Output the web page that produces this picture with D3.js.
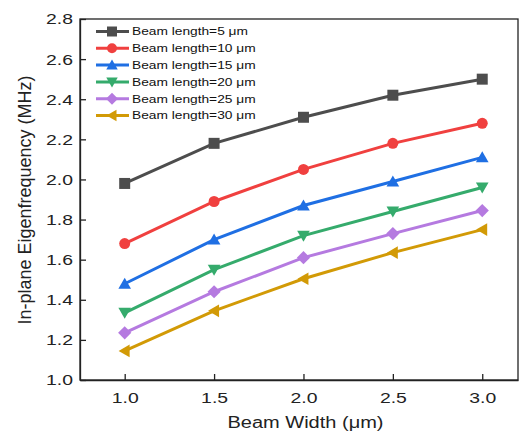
<!DOCTYPE html>
<html>
<head>
<meta charset="utf-8">
<script src="https://cdn.jsdelivr.net/npm/d3@7"></script>
<style>
  body { margin: 0; background: #fff; }
  svg { font-family: "Liberation Sans", Arial, sans-serif; }
</style>
</head>
<body>
<div id="chart"></div>
<script>
const widths = [1.0, 1.5, 2.0, 2.5, 3.0];
const lengths = ["5", "10", "15", "20", "25", "30"];
const freq5 = [1.98, 2.18, 2.31, 2.42, 2.50];
const freq10 = [1.68, 1.89, 2.05, 2.18, 2.28];
const freq15 = [1.48, 1.70, 1.87, 1.99, 2.11];
const freq20 = [1.335, 1.55, 1.72, 1.84, 1.96];
const freq25 = [1.235, 1.44, 1.61, 1.73, 1.845];
const freq30 = [1.145, 1.345, 1.505, 1.635, 1.75];
const xTicks = [1.0, 1.5, 2.0, 2.5, 3.0];
const yTicks = [1.0, 1.2, 1.4, 1.6, 1.8, 2.0, 2.2, 2.4, 2.6, 2.8];

const colors = ["#4d4d4d", "#f0403f", "#1f6fe3", "#35ab6c", "#b57ae0", "#d29a06"];
const symbols = ["square", "circle", "triangle", "triangleDown", "diamond", "triangleLeft"];

const series = [freq5, freq10, freq15, freq20, freq25, freq30].map((vals, i) => ({
  name: `Beam length=${lengths[i]} μm`,
  color: colors[i],
  symbol: symbols[i],
  points: vals.map((v, j) => ({ x: widths[j], y: v }))
}));

const width = 527, height = 438;
const margin = { top: 19, right: 9, bottom: 58, left: 80 };
const stretch = 1.25; // text in the original is drawn a bit wide

const svg = d3.select("#chart").append("svg")
  .attr("width", width)
  .attr("height", height);

const x = d3.scaleLinear().domain([0.75, 3.2]).range([margin.left, width - margin.right]);
const y = d3.scaleLinear().domain([1.0, 2.8]).range([height - margin.bottom, margin.top]);

// marker path generator
function markerPath(type, s) {
  const h = s / 2;
  if (type === "square") return `M${-h},${-h}H${h}V${h}H${-h}Z`;
  if (type === "circle") return `M${h},0A${h},${h} 0 1,1 ${-h},0A${h},${h} 0 1,1 ${h},0Z`;
  if (type === "triangle") return `M0,${-h * 1.1}L${h * 1.15},${h * 0.9}L${-h * 1.15},${h * 0.9}Z`;
  if (type === "triangleDown") return `M0,${h * 1.1}L${h * 1.15},${-h * 0.9}L${-h * 1.15},${-h * 0.9}Z`;
  if (type === "diamond") return `M0,${-h * 1.2}L${h * 1.2},0L0,${h * 1.2}L${-h * 1.2},0Z`;
  if (type === "triangleLeft") return `M${-h * 1.1},0L${h * 0.9},${-h * 1.15}L${h * 0.9},${h * 1.15}Z`;
}

// frame
svg.append("rect")
  .attr("x", margin.left)
  .attr("y", margin.top)
  .attr("width", width - margin.right - margin.left)
  .attr("height", height - margin.bottom - margin.top)
  .attr("fill", "none")
  .attr("stroke", "#222")
  .attr("stroke-width", 1.3);

// axes
const xAxis = svg.append("g")
  .attr("transform", `translate(0,${height - margin.bottom})`)
  .call(d3.axisBottom(x).tickValues(xTicks).tickFormat(d3.format(".1f")).tickSizeInner(-6).tickSizeOuter(0).tickPadding(12));
const yAxis = svg.append("g")
  .attr("transform", `translate(${margin.left},0)`)
  .call(d3.axisLeft(y).tickValues(yTicks).tickFormat(d3.format(".1f")).tickSizeInner(-6).tickSizeOuter(0).tickPadding(5.6));

[xAxis, yAxis].forEach(g => {
  g.select(".domain").attr("stroke", "#222").attr("stroke-width", 1.3);
  g.selectAll(".tick line").attr("stroke", "#222").attr("stroke-width", 1.3);
  g.selectAll(".tick text")
    .attr("font-size", 15.5)
    .attr("fill", "#222")
    .attr("transform", `scale(${stretch},1)`)
    .style("font-family", "'Liberation Sans', Arial, sans-serif");
});

// axis titles
svg.append("text")
  .attr("transform", `translate(305.5,428) scale(${stretch},1)`)
  .attr("text-anchor", "middle")
  .attr("font-size", 16)
  .attr("fill", "#222")
  .text("Beam Width (μm)");

svg.append("text")
  .attr("transform", "translate(31,200) rotate(-90)")
  .attr("text-anchor", "middle")
  .attr("font-size", 18)
  .attr("fill", "#222")
  .text("In-plane Eigenfrequency (MHz)");

// lines
const line = d3.line().x(d => x(d.x)).y(d => y(d.y));

const groups = svg.append("g").selectAll("g")
  .data(series)
  .join("g");

groups.append("path")
  .attr("d", d => line(d.points))
  .attr("fill", "none")
  .attr("stroke", d => d.color)
  .attr("stroke-width", 3);

groups.selectAll("path.marker")
  .data(d => d.points.map(p => ({ ...p, color: d.color, symbol: d.symbol })))
  .join("path")
  .attr("class", "marker")
  .attr("transform", d => `translate(${x(d.x)},${y(d.y)})`)
  .attr("d", d => markerPath(d.symbol, 11))
  .attr("fill", d => d.color);

// legend
const legend = svg.append("g");
const legendRows = legend.selectAll("g")
  .data(series)
  .join("g")
  .attr("transform", (d, i) => `translate(96,${31.5 + i * 16.8})`);

legendRows.append("line")
  .attr("x1", 0).attr("x2", 33)
  .attr("stroke", d => d.color)
  .attr("stroke-width", 3);

legendRows.append("path")
  .attr("transform", "translate(16,0)")
  .attr("d", d => markerPath(d.symbol, 10))
  .attr("fill", d => d.color);

legendRows.append("text")
  .attr("transform", `translate(36,0) scale(${stretch},1)`)
  .attr("dy", "0.35em")
  .attr("font-size", 11)
  .attr("fill", "#111")
  .text(d => d.name);
</script>
</body>
</html>
